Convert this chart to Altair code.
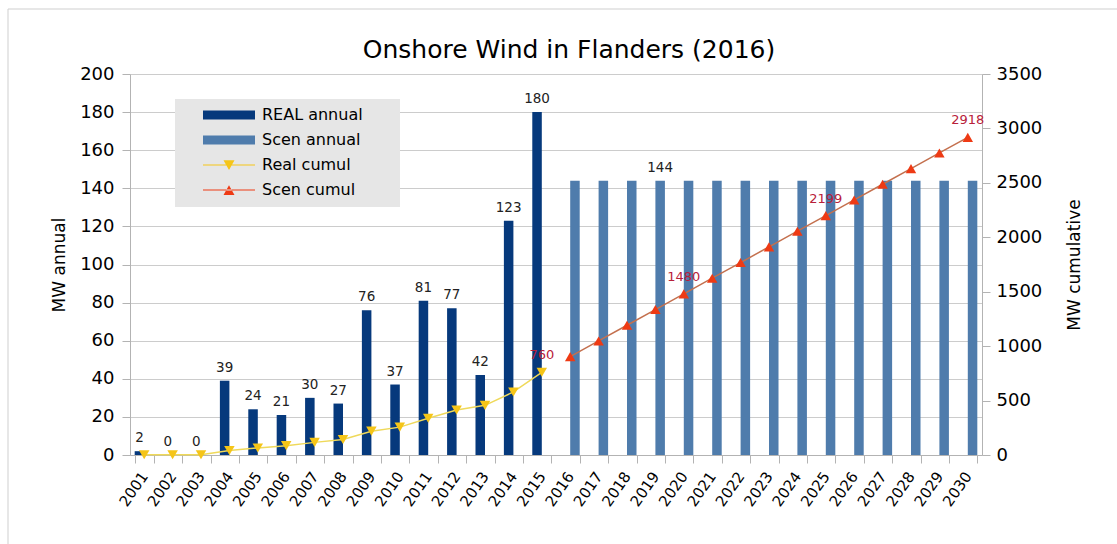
import altair as alt
import pandas as pd

# ---- data ----
years = ["2001", "2002", "2003", "2004", "2005", "2006", "2007", "2008", "2009", "2010",
         "2011", "2012", "2013", "2014", "2015", "2016", "2017", "2018", "2019", "2020",
         "2021", "2022", "2023", "2024", "2025", "2026", "2027", "2028", "2029", "2030"]
real_years = years[:15]
scen_years = years[15:]
real_annual = [2, 0, 0, 39, 24, 21, 30, 27, 76, 37, 81, 77, 42, 123, 180]
scen_annual = [144, 144, 144, 144, 144, 144, 144, 144, 144, 144, 144, 144, 144, 144, 144]
real_cumul = [2, 2, 2, 41, 65, 86, 116, 143, 219, 256, 337, 414, 456, 579, 760]
scen_cumul = [904, 1048, 1192, 1336, 1480, 1624, 1768, 1912, 2056, 2199, 2343, 2487, 2631, 2775, 2918]
scen_label_years = ["2019"]
scen_label_values = [144]
cumul_label_years = ["2015", "2020", "2025", "2030"]
cumul_label_values = [760, 1480, 2199, 2918]
series_names = ["REAL annual", "Scen annual", "Real cumul", "Scen cumul"]
series_colors = ["#06397c", "#4f7cac", "#f5c518", "#ee3a14"]
left_ticks = [0, 20, 40, 60, 80, 100, 120, 140, 160, 180, 200]
right_ticks = [0, 500, 1000, 1500, 2000, 2500, 3000, 3500]
chart_title = ["Onshore Wind in Flanders (2016)"]

FONT = "DejaVu Sans"

real_df = pd.DataFrame({"year": real_years, "series": "REAL annual", "value": real_annual})
scen_df = pd.DataFrame({"year": scen_years, "series": "Scen annual", "value": scen_annual})
scen_lab_df = pd.DataFrame({"year": scen_label_years, "series": "Scen annual", "value": scen_label_values})
rc_df = pd.DataFrame({"year": real_years, "cumul": real_cumul})
sc_df = pd.DataFrame({"year": scen_years, "cumul": scen_cumul})
cl_df = pd.DataFrame({"year": cumul_label_years, "cumul": cumul_label_values})
leg_df = pd.DataFrame({"series": series_names})
title_df = pd.DataFrame({"t": chart_title})

xscale = alt.Scale(domain=years, paddingInner=0.33, paddingOuter=0.165)
xaxis = alt.Axis(title=None, labelAngle=305, labelFontSize=15, tickBand="extent",
                 tickSize=8, labelPadding=10, grid=False, labelBaseline="middle")
xoff = alt.XOffset("series:N", scale=alt.Scale(domain=["REAL annual", "Scen annual"],
                                                 paddingInner=0, paddingOuter=0))
yleft = alt.Y("value:Q", scale=alt.Scale(domain=[0, 200], nice=False),
              axis=alt.Axis(values=left_ticks, title="MW annual", tickSize=8,
                            labelPadding=8, titlePadding=11, labelFontSize=18,
                            titleFontSize=17, grid=True))
yright = alt.Y("cumul:Q", scale=alt.Scale(domain=[0, 3500], nice=False),
               axis=alt.Axis(values=right_ticks, format="d", orient="right", title="MW cumulative",
                             titleAngle=270, tickSize=8, labelPadding=6, titlePadding=42,
                             labelFontSize=18, titleFontSize=17, grid=False))

x = alt.X("year:N", scale=xscale, axis=xaxis)

bars_real = alt.Chart(real_df).mark_bar(color=series_colors[0]).encode(x=x, xOffset=xoff, y=yleft)
bars_scen = alt.Chart(scen_df).mark_bar(color=series_colors[1]).encode(x=x, xOffset=xoff, y=yleft)
lab_real = alt.Chart(real_df).mark_text(font=FONT, fontSize=13.5, color="#222222", dy=-9,
                                         baseline="alphabetic").encode(
    x=x, xOffset=xoff, y=yleft, text="value:Q")
lab_scen = alt.Chart(scen_lab_df).mark_text(font=FONT, fontSize=13.5, color="#222222", dy=-9,
                                             baseline="alphabetic").encode(
    x=x, xOffset=xoff, y=yleft, text="value:Q")

left = alt.layer(bars_real, bars_scen, lab_real, lab_scen)

line_real = alt.Chart(rc_df).mark_line(color="#efd95a", strokeWidth=1.5).encode(x=x, y=yright)
pts_real = alt.Chart(rc_df).mark_point(shape="triangle-down", filled=True, size=110,
                                        color=series_colors[2], opacity=1).encode(x=x, y=yright)
line_scen = alt.Chart(sc_df).mark_line(color="#c4704e", strokeWidth=1.5).encode(x=x, y=yright)
pts_scen = alt.Chart(sc_df).mark_point(shape="triangle-up", filled=True, size=110,
                                        color=series_colors[3], opacity=1).encode(x=x, y=yright)
lab_cum = alt.Chart(cl_df).mark_text(font=FONT, fontSize=13, color="#b8203a", dy=-13,
                                      baseline="alphabetic").encode(x=x, y=yright, text="cumul:Q")

# legend symbols (unit space scaled by sqrt(symbolSize)=20px)
paths = [
    "M-2.6,-0.44H2.6V0.44H-2.6Z",
    "M-2.6,-0.44H2.6V0.44H-2.6Z",
    "M-2.6,-0.05H2.6V0.05H-2.6Z M-0.55,-0.48L0.55,-0.48L0,0.5Z",
    "M-2.6,-0.05H2.6V0.05H-2.6Z M-0.55,0.5L0.55,0.5L0,-0.48Z",
]
leg_common = dict(orient="none", legendX=45, legendY=31, title=None)
legend_layer = alt.Chart(leg_df).mark_point(filled=True, opacity=0).encode(
    color=alt.Color("series:N", scale=alt.Scale(domain=series_names, range=series_colors),
                    legend=alt.Legend(**leg_common)),
    shape=alt.Shape("series:N", scale=alt.Scale(domain=series_names, range=paths),
                    legend=alt.Legend(**leg_common)),
)

legend_box = alt.Chart(title_df).mark_rect(color="#e6e6e6").encode(
    x=alt.value(45), x2=alt.value(270), y=alt.value(25), y2=alt.value(133))

right = alt.layer(line_real, line_scen, pts_real, pts_scen, lab_cum, legend_layer)

frame_top = alt.Chart(title_df).mark_rule(color="#cfcfcf", strokeWidth=1).encode(
    x=alt.value(-122), x2=alt.value(990), y=alt.value(-65))
frame_left = alt.Chart(title_df).mark_rule(color="#cfcfcf", strokeWidth=1).encode(
    x=alt.value(-122), y=alt.value(-65), y2=alt.value(475))
title_mark = alt.Chart(title_df).mark_text(font=FONT, fontSize=25, color="#000000",
                                            baseline="middle", align="center").encode(
    x=alt.value(439), y=alt.value(-24), text="t:N")

chart = alt.layer(legend_box, left, right, frame_top, frame_left, title_mark).resolve_scale(
    y="independent").properties(
    width=852, height=381,
    autosize=alt.AutoSizeParams(type="none"),
    padding={"left": 130, "top": 74, "right": 135, "bottom": 89},
).configure_view(stroke=None).configure_axis(
    labelFont=FONT, titleFont=FONT, labelColor="#000000", titleColor="#000000",
    titleFontWeight="normal", domainColor="#b3b3b3", tickColor="#b3b3b3",
    gridColor="#cccccc", domainWidth=1, tickWidth=1,
).configure_legend(
    labelFont=FONT, labelFontSize=16, labelColor="#000000", symbolSize=400,
    symbolOpacity=1, padding=0, rowPadding=7, labelOffset=23, symbolOffset=44,
    symbolStrokeWidth=0,
)

chart.save("out.html", embed_options={"renderer": "svg", "actions": False})
